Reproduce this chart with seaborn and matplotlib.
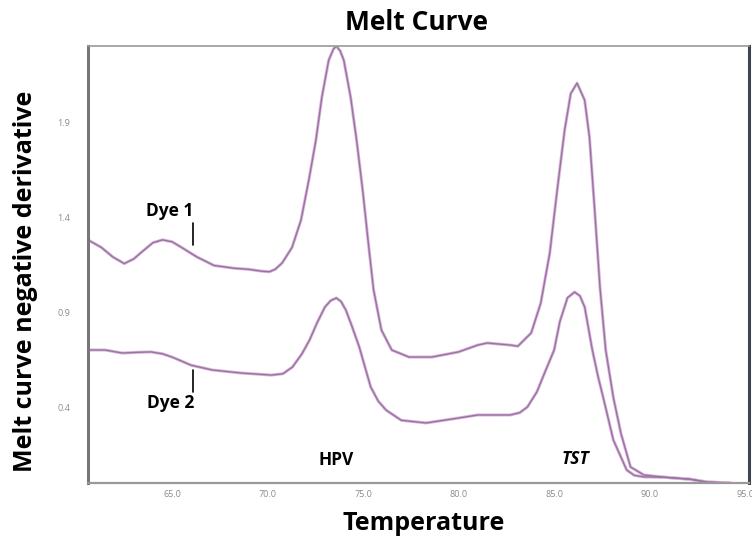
import numpy as np
import pandas as pd
import matplotlib
matplotlib.use('Agg')
import matplotlib.pyplot as plt
import seaborn as sns

# Melt curve values
temp_dye1 = [60.6, 61.3, 61.9, 62.5, 63.0, 63.4, 64.0, 64.5, 65.0, 65.5, 66.3, 67.2,
             68.3, 69.0, 69.7, 70.1, 70.4, 70.76, 71.28, 71.75, 72.16, 72.53, 72.84, 73.2,
             73.45, 73.6, 73.8, 73.99, 74.35, 74.66, 74.98, 75.3, 75.55, 75.96, 76.5,
             77.4, 78.6, 80.0, 81.0, 81.5, 82.7, 83.1, 83.8, 84.3, 84.77, 85.18, 85.55,
             85.87, 86.2, 86.6, 86.85, 87.1, 87.4, 87.7, 88.1, 88.5, 89.0, 89.7, 90.8,
             92.1, 93.0, 94.2]
deriv_dye1 = [1.28, 1.24, 1.19, 1.155, 1.18, 1.215, 1.265, 1.28, 1.27, 1.24, 1.19, 1.145,
              1.13, 1.125, 1.115, 1.112, 1.125, 1.158, 1.24, 1.384, 1.595, 1.805, 2.03, 2.226,
              2.285, 2.3, 2.275, 2.226, 2.03, 1.805, 1.54, 1.24, 1.016, 0.805, 0.70,
              0.663, 0.663, 0.69, 0.726, 0.737, 0.726, 0.72, 0.79, 0.947, 1.21, 1.558, 1.858,
              2.05, 2.105, 2.015, 1.82, 1.47, 1.03, 0.70, 0.45, 0.26, 0.084, 0.042, 0.03,
              0.02, 0.005, 0.0]

temp_dye2 = [60.6, 61.5, 62.4, 63.2, 63.9, 64.5, 65.0, 66.0, 67.1, 68.6, 70.2, 70.8,
             71.3, 71.8, 72.2, 72.6, 73.0, 73.3, 73.6, 73.85, 74.1, 74.4, 74.8, 75.1,
             75.4, 75.8, 76.2, 77.0, 78.3, 80.0, 81.0, 82.7, 83.2, 83.6, 84.1, 84.5,
             85.0, 85.3, 85.7, 86.07, 86.35, 86.6, 87.0, 87.3, 87.6, 88.1, 88.8, 89.2, 89.7,
             90.8, 92.1, 93.0, 94.2]
deriv_dye2 = [0.70, 0.70, 0.684, 0.688, 0.69, 0.68, 0.663, 0.62, 0.595, 0.579, 0.568, 0.575,
              0.61, 0.68, 0.753, 0.845, 0.926, 0.96, 0.974, 0.955, 0.91, 0.83, 0.716, 0.61,
              0.505, 0.43, 0.384, 0.33, 0.316, 0.342, 0.358, 0.358, 0.37, 0.40, 0.48, 0.579,
              0.70, 0.85, 0.975, 1.005, 0.985, 0.926, 0.70, 0.56, 0.437, 0.226, 0.068, 0.04,
              0.032, 0.03, 0.02, 0.005, 0.0]

x_ticks = [65, 70, 75, 80, 85, 90, 95]
x_tick_labels = ['65.0', '70.0', '75.0', '80.0', '85.0', '90.0', '95.0']
y_ticks = [0.4, 0.9, 1.4, 1.9]
y_tick_labels = ['0.4', '0.9', '1.4', '1.9']

df = pd.concat([
    pd.DataFrame({'Temperature': temp_dye1, 'Derivative': deriv_dye1, 'Dye': 'Dye 1'}),
    pd.DataFrame({'Temperature': temp_dye2, 'Derivative': deriv_dye2, 'Dye': 'Dye 2'}),
])

sns.set_style('white')
plt.rcParams['font.family'] = ['Open Sans', 'DejaVu Sans']
plt.rcParams['text.color'] = 'black'

fig = plt.figure(figsize=(7.52, 5.40), dpi=100)
ax = fig.add_axes([0.117, 0.1056, 0.879, 0.809])

# soft pink halo under a darker core, like the scanned trace
sns.lineplot(data=df, x='Temperature', y='Derivative', hue='Dye',
             palette=['#dcb2e0', '#dcb2e0'], linewidth=2.2, legend=False, ax=ax)
sns.lineplot(data=df, x='Temperature', y='Derivative', hue='Dye',
             palette=['#94769a', '#94769a'], linewidth=1.0, legend=False, ax=ax)

ax.set_xlim(60.6, 95.2)
ax.set_ylim(0, 2.3)
ax.set_xticks(x_ticks)
ax.set_xticklabels(x_tick_labels)
ax.set_yticks(y_ticks)
ax.set_yticklabels(y_tick_labels)
ax.tick_params(axis='both', length=0, labelsize=6.5, labelcolor='#8a8a8a')
ax.tick_params(axis='y', pad=13)
ax.tick_params(axis='x', pad=5)
ax.set_xlabel('')
ax.set_ylabel('')

ax.spines['left'].set_color('#777777')
ax.spines['left'].set_linewidth(2.2)
ax.spines['bottom'].set_color('#999999')
ax.spines['bottom'].set_linewidth(1.6)
ax.spines['top'].set_color('#999999')
ax.spines['top'].set_linewidth(1.2)
ax.spines['right'].set_color('#3d4450')
ax.spines['right'].set_linewidth(2.2)

# annotations
ax.text(64.9, 1.43, 'Dye 1', ha='center', va='center', fontsize=12.5, fontweight='bold')
ax.plot([66.1, 66.1], [1.255, 1.37], color='black', lw=1.2)
ax.text(64.9, 0.42, 'Dye 2', ha='center', va='center', fontsize=12.5, fontweight='bold')
ax.plot([66.1, 66.1], [0.48, 0.595], color='black', lw=1.2)
ax.text(73.6, 0.12, 'HPV', ha='center', va='center', fontsize=12.5, fontweight='bold')
ax.text(86.1, 0.125, 'TST', ha='center', va='center', fontsize=12.5,
        fontweight='bold', fontstyle='italic')

fig.text(0.5545, 1 - 22 / 540, 'Melt Curve', ha='center', va='center',
         fontsize=19, fontweight='bold')
fig.text(0.5635, 1 - 523 / 540, 'Temperature', ha='center', va='center',
         fontsize=18, fontweight='bold')
fig.text(0.034, 1 - 281 / 540, 'Melt curve negative derivative', ha='center', va='center',
         rotation=90, fontsize=18, fontweight='bold')

plt.savefig('out.png', dpi=100)
